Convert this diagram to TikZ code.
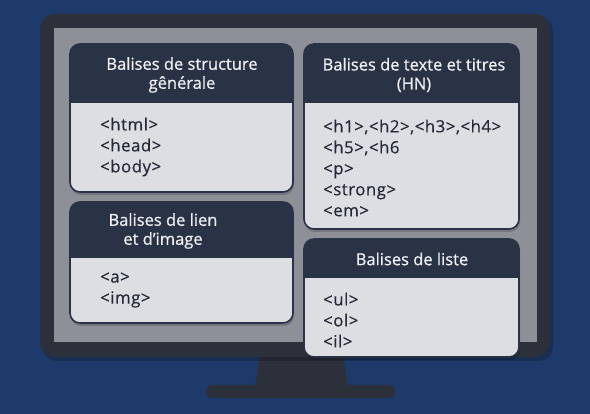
\documentclass[tikz,border=0pt]{standalone}
\usepackage{fontspec}
\setmainfont{Open Sans}
\newfontfamily\cardfont[FakeBold=0.7]{Open Sans}
\newfontfamily\tagfont[FakeBold=0.35,LetterSpace=3]{Open Sans}
\definecolor{bgblue}{RGB}{30,58,106}
\definecolor{bezel}{RGB}{44,48,58}
\definecolor{screen}{RGB}{142,144,152}
\definecolor{boxhead}{RGB}{42,50,69}
\definecolor{boxbody}{RGB}{221,222,225}
\definecolor{tagtext}{RGB}{36,41,56}
\definecolor{hdrtext}{RGB}{240,240,243}
% one tag card: x1, y1, x2, y2, bottom of the header
\newcommand\tagcard[5]{%
  \fill[black,opacity=0.18,rounded corners=10] (#1+1,#2+2) rectangle (#3+1,#4+3);
  \begin{scope}
    \clip[rounded corners=10] (#1,#2) rectangle (#3,#4);
    \fill[boxbody] (#1,#2) rectangle (#3,#4);
    \fill[boxhead] (#1,#2) rectangle (#3,#5);
  \end{scope}
  \draw[boxhead,line width=1.6pt,rounded corners=10] (#1,#2) rectangle (#3,#4);}
\begin{document}
\begin{tikzpicture}[x=1pt,y=-1pt,
  hdr/.style={text=hdrtext,align=center,font=\cardfont\fontsize{16.5}{19}\selectfont},
  tags/.style={text=tagtext,align=left,anchor=west,inner sep=0pt,
    font=\tagfont\fontsize{16.8}{21}\selectfont}]
 \fill[bgblue] (0,0) rectangle (590,414);
 % monitor
 \fill[bezel] (260,355) -- (343,355) -- (348,386) -- (255,386) -- cycle;
 \fill[bezel,rounded corners=6] (206,385) rectangle (395,398);
 \fill[black,opacity=0.2,rounded corners=15] (42,17) rectangle (553,361);
 \fill[bezel,rounded corners=15] (40,14) rectangle (550,357);
 \fill[screen] (54,28) rectangle (537,342);
 % cards
 \tagcard{70}{44}{293}{192}{103}
 \tagcard{304}{44}{519}{229}{103}
 \tagcard{70}{202}{293}{323}{258}
 \tagcard{304}{239}{519}{357}{278}
 % titles
 \node[hdr] (structtitle) at (182,75) {Balises de structure\\gênérale};
 \node[hdr] (textetitle) at (414,75) {Balises de texte et titres\\(HN)};
 \node[hdr] (lientitle) at (163,231) {Balises de lien\\et d’image};
 \node[hdr] (listetitle) at (412,259) {Balises de liste};
 % tags
 \node[tags] (structtags) at (100,147) {<html>\\<head>\\<body>};
 \node[tags] (textetags) at (323,168) {<h1>,<h2>,<h3>,<h4>\\<h5>,<h6\\<p>\\<strong>\\<em>};
 \node[tags] (lientags) at (100,290) {<a>\\<img>};
 \node[tags] (listetags) at (323,320) {<ul>\\<ol>\\<il>};
\end{tikzpicture}
\end{document}
